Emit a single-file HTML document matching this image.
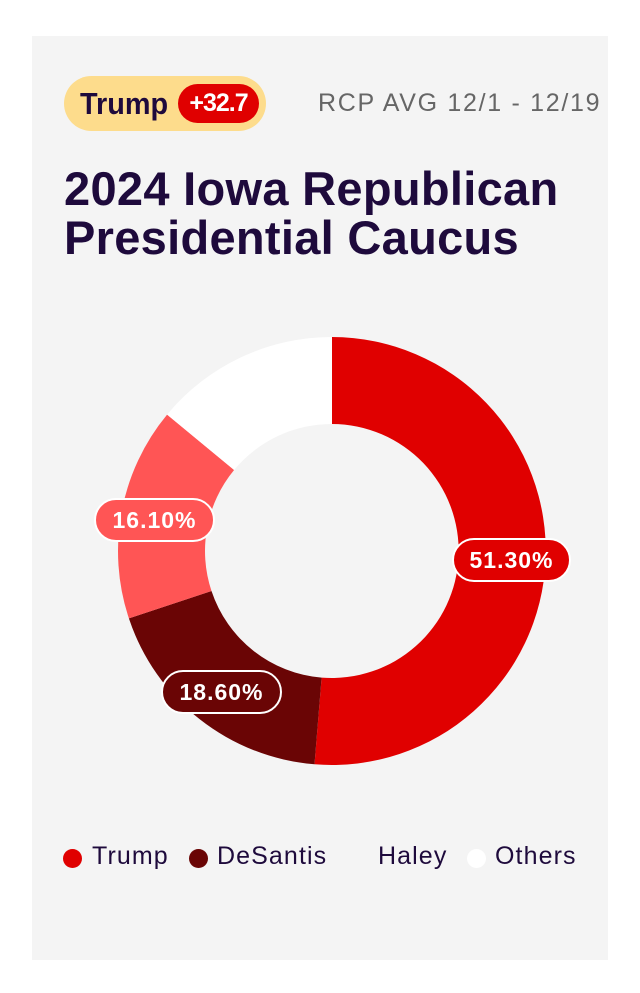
<!DOCTYPE html>
<html><head><meta charset="utf-8"><style>
body{margin:0;width:640px;height:993px;background:#fff;font-family:"Liberation Sans",sans-serif;position:relative;overflow:hidden}
.card{position:absolute;left:32px;top:36px;width:576px;height:924px;background:#f4f4f4}
.badge{position:absolute;left:64px;top:76px;width:202px;height:55px;border-radius:28px;background:#fddc8c}
.badge .n{position:absolute;left:16px;top:10px;font-size:31px;font-weight:bold;color:#1e0a3c;transform:scaleX(0.93);transform-origin:left}
.badge .p{position:absolute;left:114px;top:8px;width:81px;height:39px;border-radius:20px;background:#e00000;color:#fff;font-size:25px;font-weight:bold;text-align:center;line-height:39px;letter-spacing:-1px}
.rcp{position:absolute;left:318px;top:89px;font-size:25px;color:#666;letter-spacing:1.7px;white-space:nowrap}
h1{position:absolute;left:64px;top:164px;margin:0;font-size:47px;line-height:49px;color:#1e0a3c;font-weight:bold;white-space:nowrap;letter-spacing:0.3px}
.leg{position:absolute;top:842px;font-size:25px;color:#1e0a3c;letter-spacing:1.1px;font-weight:bold;font-weight:500}
.dot{position:absolute;top:849px;width:19px;height:19px;border-radius:50%}
</style></head><body>
<div class="card"></div>
<div class="badge"><span class="n">Trump</span><span class="p">+32.7</span></div>
<div class="rcp">RCP AVG 12/1 - 12/19</div>
<h1>2024 Iowa Republican<br>Presidential Caucus</h1>
<svg style="position:absolute;left:0;top:0" width="640" height="993">
<path d="M332 337 A214 214 0 1 1 314.5 764.3 L321.6 677.6 A127 127 0 1 0 332 424 Z" fill="#e00000"/>
<path d="M314.5 764.3 A214 214 0 0 1 128.9 618.4 L211.5 591 A127 127 0 0 0 321.6 677.6 Z" fill="#6a0505"/>
<path d="M128.9 618.4 A214 214 0 0 1 167.1 414.6 L234.1 470 A127 127 0 0 0 211.5 591 Z" fill="#ff5555"/>
<path d="M167.1 414.6 A214 214 0 0 1 332 337 L332 424 A127 127 0 0 0 234.1 470 Z" fill="#ffffff"/>
<g font-family="Liberation Sans,sans-serif" font-weight="bold" font-size="23" fill="#fff" text-anchor="middle" letter-spacing="1">
<rect x="453" y="539" width="117" height="42" rx="21" fill="#e00000" stroke="#fff" stroke-width="2"/>
<text x="511.5" y="568">51.30%</text>
<rect x="162" y="671" width="119" height="42" rx="21" fill="#6a0505" stroke="#fff" stroke-width="2"/>
<text x="221.5" y="700">18.60%</text>
<rect x="95" y="499" width="119" height="42" rx="21" fill="#ff5555" stroke="#fff" stroke-width="2"/>
<text x="154.5" y="528">16.10%</text>
</g>
</svg>
<div class="dot" style="left:63px;background:#e00000"></div><div class="leg" style="left:92px">Trump</div>
<div class="dot" style="left:189px;background:#6a0505"></div><div class="leg" style="left:217px">DeSantis</div>
<div class="leg" style="left:378px">Haley</div>
<div class="dot" style="left:467px;background:#fff"></div><div class="leg" style="left:495px">Others</div>
</body></html>
